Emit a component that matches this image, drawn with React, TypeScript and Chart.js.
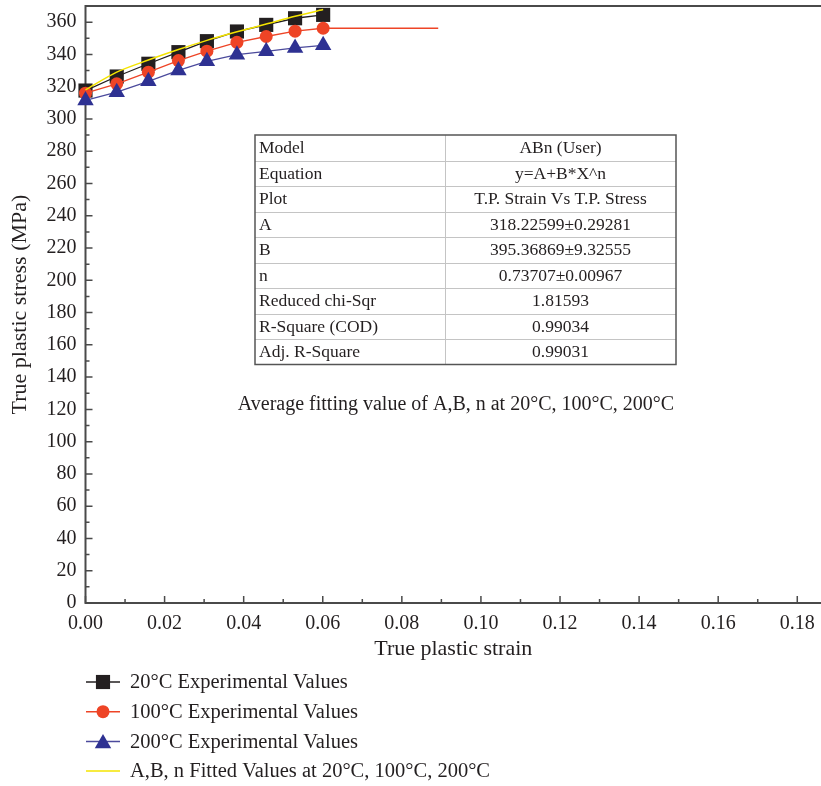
import React, { useEffect, useRef } from "react";
import { Chart, registerables } from "chart.js";

Chart.register(...registerables);

// True plastic strain at each measured point
const strain = [0, 0.0079, 0.0159, 0.0235, 0.0307, 0.0383, 0.0457, 0.053, 0.0601];
// 100°C curve carries on flat past the last measured point
const strain100 = [0, 0.0079, 0.0159, 0.0235, 0.0307, 0.0383, 0.0457, 0.053, 0.0601, 0.0892];

// True plastic stress (MPa)
const stress20 = [317.6, 326.3, 334.2, 341.4, 348.2, 354.2, 358.3, 362.4, 364.5];
const stress100 = [316, 321.8, 329, 336.2, 342, 347.5, 351.1, 354.4, 356.2, 356.2];
const stress200 = [311.5, 316.6, 323.3, 330.1, 335.7, 339.8, 341.9, 344, 345.6];
const stressFitted = [318, 329, 336.5, 343, 348.7, 354, 358.8, 363.6, 367.8];

const xTickValues = [0, 0.02, 0.04, 0.06, 0.08, 0.1, 0.12, 0.14, 0.16, 0.18];
const yTickValues = [0, 20, 40, 60, 80, 100, 120, 140, 160, 180, 200, 220, 240, 260, 280, 300, 320, 340, 360];

const seriesLabels = [
  "20°C Experimental Values",
  "100°C Experimental Values",
  "200°C Experimental Values",
  "A,B, n Fitted Values at 20°C, 100°C, 200°C",
];

const fitTable: [string, string][] = [
  ["Model", "ABn (User)"],
  ["Equation", "y=A+B*X^n"],
  ["Plot", "T.P. Strain Vs T.P. Stress"],
  ["A", "318.22599±0.29281"],
  ["B", "395.36869±9.32555"],
  ["n", "0.73707±0.00967"],
  ["Reduced chi-Sqr", "1.81593"],
  ["R-Square (COD)", "0.99034"],
  ["Adj. R-Square", "0.99031"],
];

const noteText = "Average fitting value of A,B, n at 20°C, 100°C, 200°C";

const FONT = '"Liberation Serif", "Times New Roman", serif';
const INK = "#231f20";
const AXIS = "#4a4a4a";
const BLACK = "#231f20";
const RED = "#ee4426";
const BLUE = "#2e3192";
const BLUE_LINE = "#4b4a9c";
const YELLOW = "#f4e400";

type Shape = "rect" | "circle" | "triangle";

function drawMarker(ctx: CanvasRenderingContext2D, shape: Shape, x: number, y: number, r: number, color: string) {
  ctx.save();
  ctx.fillStyle = color;
  ctx.beginPath();
  if (shape === "rect") {
    const s = Math.SQRT1_2 * r;
    ctx.rect(x - s, y - s, 2 * s, 2 * s);
  } else if (shape === "circle") {
    ctx.arc(x, y, r, 0, Math.PI * 2);
  } else {
    const a = (2 * Math.PI) / 3;
    ctx.moveTo(x, y - r);
    ctx.lineTo(x + Math.sin(a) * r, y - Math.cos(a) * r);
    ctx.lineTo(x + Math.sin(2 * a) * r, y - Math.cos(2 * a) * r);
    ctx.closePath();
  }
  ctx.fill();
  ctx.restore();
}

export default function App() {
  const canvasRef = useRef<HTMLCanvasElement>(null);

  useEffect(() => {
    document.body.style.margin = "0";
    const canvas = canvasRef.current;
    if (!canvas) return;

    const pts = (xs: number[], ys: number[]) => xs.map((x, i) => ({ x, y: ys[i] }));

    const framePlugin = {
      id: "frame",
      beforeDatasetsDraw(chart: any) {
        const { ctx, chartArea } = chart;
        const { left, right, top, bottom } = chartArea;
        const xs = chart.scales.x;
        const ys = chart.scales.y;
        ctx.save();
        ctx.strokeStyle = AXIS;
        ctx.lineWidth = 2;
        ctx.beginPath();
        ctx.moveTo(right, top);
        ctx.lineTo(left, top);
        ctx.lineTo(left, bottom);
        ctx.lineTo(right, bottom);
        ctx.stroke();

        ctx.lineWidth = 1.5;
        ctx.beginPath();
        // inward ticks on the y axis, major and minor
        for (let i = 0; i < yTickValues.length; i++) {
          const v = yTickValues[i];
          const py = ys.getPixelForValue(v);
          ctx.moveTo(left, py);
          ctx.lineTo(left + 7, py);
          const mid = ys.getPixelForValue(v + 10);
          ctx.moveTo(left, mid);
          ctx.lineTo(left + 4, mid);
        }
        // inward ticks on the x axis, major and minor
        for (let i = 0; i < xTickValues.length; i++) {
          const v = xTickValues[i];
          const px = xs.getPixelForValue(v);
          ctx.moveTo(px, bottom);
          ctx.lineTo(px, bottom - 7);
          const mid = xs.getPixelForValue(v + 0.01);
          if (mid < right) {
            ctx.moveTo(mid, bottom);
            ctx.lineTo(mid, bottom - 4);
          }
        }
        ctx.stroke();
        ctx.restore();
      },
      afterDraw(chart: any) {
        const { ctx } = chart;
        ctx.save();

        // fit results table
        const tLeft = 255;
        const tRight = 676;
        const tTop = 135;
        const rowH = 25.5;
        const colX = 445;
        const tBottom = tTop + rowH * fitTable.length;
        ctx.strokeStyle = "#c4c4c4";
        ctx.lineWidth = 1;
        ctx.beginPath();
        for (let i = 1; i < fitTable.length; i++) {
          const y = Math.round(tTop + rowH * i) + 0.5;
          ctx.moveTo(tLeft, y);
          ctx.lineTo(tRight, y);
        }
        ctx.moveTo(colX + 0.5, tTop);
        ctx.lineTo(colX + 0.5, tBottom);
        ctx.stroke();
        ctx.strokeStyle = "#555";
        ctx.lineWidth = 1.5;
        ctx.strokeRect(tLeft, tTop, tRight - tLeft, tBottom - tTop);

        ctx.fillStyle = INK;
        ctx.font = `17.5px ${FONT}`;
        ctx.textBaseline = "middle";
        fitTable.forEach(([k, v], i) => {
          const cy = tTop + rowH * i + rowH / 2 + 1;
          ctx.textAlign = "left";
          ctx.fillText(k, tLeft + 4, cy);
          ctx.textAlign = "center";
          ctx.fillText(v, (colX + tRight) / 2, cy);
        });

        // note under the table
        ctx.font = `20px ${FONT}`;
        ctx.textAlign = "center";
        ctx.fillText(noteText, 456, 405);

        // legend below the plot
        const styles: { color: string; line: string; shape: Shape | null; r: number }[] = [
          { color: BLACK, line: BLACK, shape: "rect", r: 10 },
          { color: RED, line: RED, shape: "circle", r: 6.5 },
          { color: BLUE, line: BLUE_LINE, shape: "triangle", r: 9.5 },
          { color: YELLOW, line: YELLOW, shape: null, r: 0 },
        ];
        ctx.font = `20.5px ${FONT}`;
        ctx.textAlign = "left";
        seriesLabels.forEach((label, i) => {
          const y = 682 + i * 29.7;
          const st = styles[i];
          ctx.strokeStyle = st.line;
          ctx.lineWidth = 1.5;
          ctx.beginPath();
          ctx.moveTo(86, y);
          ctx.lineTo(120, y);
          ctx.stroke();
          if (st.shape) drawMarker(ctx, st.shape, 103, st.shape === "triangle" ? y + 2 : y, st.r, st.color);
          ctx.fillStyle = INK;
          ctx.fillText(label, 130, y + 1);
        });
        ctx.restore();
      },
    };

    const chart = new Chart(canvas, {
      type: "line",
      data: {
        datasets: [
          {
            label: seriesLabels[0],
            data: pts(strain, stress20),
            borderColor: BLACK,
            backgroundColor: BLACK,
            borderWidth: 1.3,
            pointStyle: "rect",
            pointRadius: 10,
            pointBorderWidth: 0,
            order: 4,
            clip: false,
          },
          {
            label: seriesLabels[1],
            data: pts(strain100, stress100),
            borderColor: RED,
            backgroundColor: RED,
            borderWidth: 1.3,
            pointStyle: "circle",
            pointRadius: strain100.map((x) => (x > 0.07 ? 0 : 6.5)),
            pointBorderWidth: 0,
            order: 3,
            clip: false,
          },
          {
            label: seriesLabels[2],
            data: pts(strain, stress200),
            borderColor: BLUE_LINE,
            backgroundColor: BLUE,
            borderWidth: 1.3,
            pointStyle: "triangle",
            pointRadius: 9.5,
            pointBorderWidth: 0,
            order: 2,
            clip: false,
          },
          {
            label: seriesLabels[3],
            data: pts(strain, stressFitted),
            borderColor: YELLOW,
            backgroundColor: YELLOW,
            borderWidth: 1.5,
            pointRadius: 0,
            tension: 0.3,
            order: 1,
            clip: false,
          },
        ],
      },
      options: {
        responsive: true,
        maintainAspectRatio: false,
        animation: false,
        layout: { autoPadding: false, padding: { top: 6, right: 0, bottom: 121, left: 0 } },
        plugins: {
          legend: { display: false },
          tooltip: { enabled: false },
        },
        scales: {
          x: {
            type: "linear",
            min: 0,
            max: 0.186,
            grid: { display: false, drawTicks: false },
            border: { display: false },
            afterFit(scale: any) {
              scale.height = 62;
              scale.paddingLeft = 0;
              scale.paddingRight = 0;
            },
            afterBuildTicks(scale: any) {
              scale.ticks = xTickValues.map((v) => ({ value: v }));
            },
            ticks: {
              color: INK,
              font: { family: FONT, size: 20 },
              padding: 9,
              maxRotation: 0,
              autoSkip: false,
              callback: (v: any) => Number(v).toFixed(2),
            },
            title: {
              display: true,
              text: "True plastic strain",
              color: INK,
              font: { family: FONT, size: 22 },
              padding: { top: 0, bottom: 3 },
            },
          },
          y: {
            type: "linear",
            min: 0,
            max: 370,
            grid: { display: false, drawTicks: false },
            border: { display: false },
            afterFit(scale: any) {
              scale.width = 85.5;
              scale.paddingTop = 0;
              scale.paddingBottom = 0;
            },
            afterBuildTicks(scale: any) {
              scale.ticks = yTickValues.map((v) => ({ value: v }));
            },
            ticks: {
              color: INK,
              font: { family: FONT, size: 20 },
              padding: 9,
              autoSkip: false,
              callback: (v: any) => String(v),
            },
            title: {
              display: true,
              text: "True plastic stress (MPa)",
              color: INK,
              font: { family: FONT, size: 22 },
              padding: { top: 7, bottom: 0 },
            },
          },
        },
      },
      plugins: [framePlugin],
    });

    return () => chart.destroy();
  }, []);

  return (
    <div style={{ width: 821, height: 786, position: "relative", background: "#fff" }}>
      <canvas ref={canvasRef} />
    </div>
  );
}
